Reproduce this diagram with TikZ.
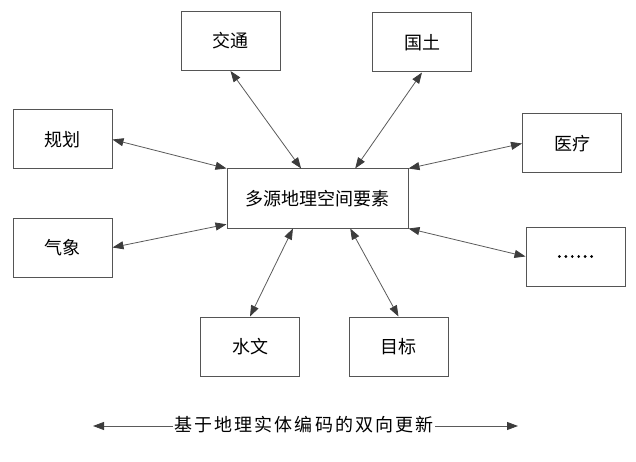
\documentclass[tikz,border=0pt]{standalone}
\usepackage{fontspec}
\setmainfont{Noto Sans CJK SC}
\usetikzlibrary{arrows.meta,calc}
\definecolor{boxline}{HTML}{555555}
\definecolor{arrline}{HTML}{5A5A5A}
\definecolor{tipcol}{HTML}{3C3C3C}
\tikzset{
  box/.style={draw=boxline,line width=1pt,minimum width=99pt,minimum height=59pt,inner sep=0pt,font=\fontsize{18}{20}\selectfont},
  centerbox/.style={box,minimum width=181pt},
  link/.style={draw=arrline,line width=0.8pt,{Triangle[length=11pt,width=8pt,fill=tipcol,color=tipcol]}-{Triangle[length=11pt,width=8pt,fill=tipcol,color=tipcol]}}
}
\begin{document}
\begin{tikzpicture}[x=1pt,y=-1pt]
\useasboundingbox (0,0) rectangle (636,462);
\node[centerbox] (c) at (317.5,198.5) {多源地理空间要素};
\node[box] (jt) at (230.5,41) {交通};
\node[box] (gt) at (422,42.5) {国土};
\node[box] (gh) at (62.5,139.5) {规划};
\node[box] (yl) at (572,143.5) {医疗};
\node[box] (qx) at (62.5,247.5) {气象};
\node[box,font=\fontsize{18}{20}\selectfont\addfontfeatures{FakeBold=2,LetterSpace=8}] (dd) at (575.5,256.5) {......};
\node[box] (sw) at (250,346.5) {水文};
\node[box] (mb) at (398.5,346.5) {目标};
\coordinate (cn1) at ($(c.north west)!0.41!(c.north east)$);
\coordinate (cn2) at ($(c.north west)!0.707!(c.north east)$);
\coordinate (cs1) at ($(c.south west)!0.365!(c.south east)$);
\coordinate (cs2) at ($(c.south west)!0.68!(c.south east)$);
\coordinate (cw2) at ($(c.north west)!0.93!(c.south west)$);
\draw[link] (jt.south) -- (cn1);
\draw[link] (gt.south) -- (cn2);
\draw[link] (gh.east) -- (c.north west);
\draw[link] (qx.east) -- (cw2);
\draw[link] (yl.west) -- (c.north east);
\draw[link] (dd.west) -- (c.south east);
\draw[link] (sw.north) -- (cs1);
\draw[link] (mb.north) -- (cs2);
\coordinate (bl) at (93,426);
\coordinate (br) at (518,426);
\draw[link] (bl) -- (br);
\node[fill=white,inner sep=1pt,font=\fontsize{18}{20}\selectfont\addfontfeatures{LetterSpace=12}] (bt) at (304,425) {基于地理实体编码的双向更新};
\end{tikzpicture}
\end{document}
